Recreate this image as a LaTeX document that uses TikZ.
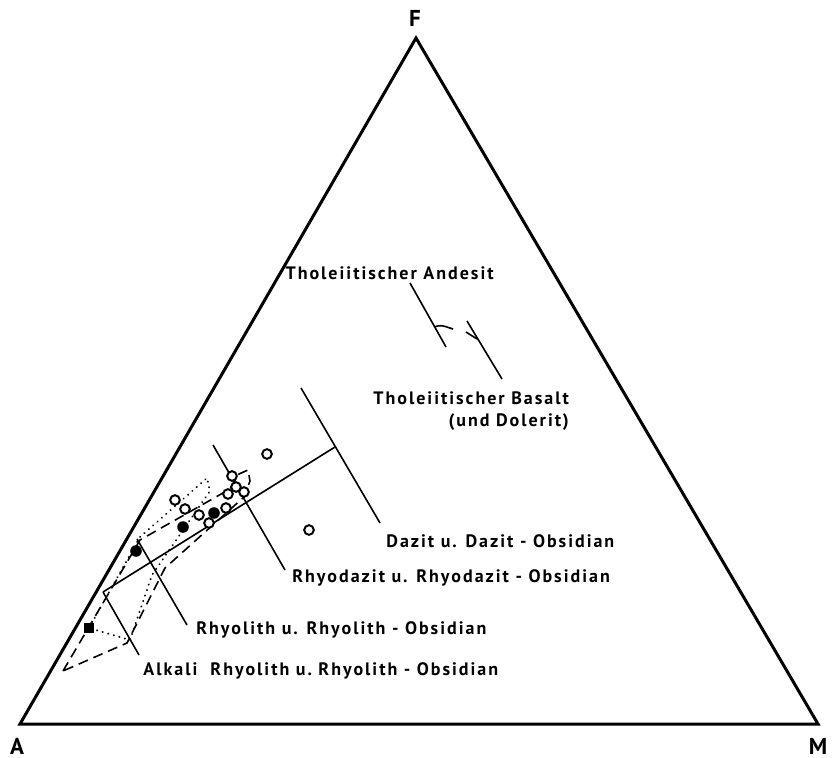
\documentclass[tikz,border=0pt]{standalone}
\usepackage{fontspec}
\setmainfont{PT Sans}[LetterSpace=11]
\usetikzlibrary{positioning}

\tikzset{
  edge/.style={line width=1.5pt, line join=miter},
  tie/.style={line width=0.8pt},
  rockname/.style={font=\bfseries\fontsize{9}{11}\selectfont, inner sep=0pt, anchor=west},
  corner/.style={font=\bfseries\fontsize{11.5}{12}\selectfont, inner sep=0pt},
  opensample/.style={circle, draw, fill=white, line width=1pt, minimum size=4.8pt, inner sep=0pt},
  fullsample/.style={circle, fill, minimum size=5.8pt, inner sep=0pt},
  squaresample/.style={rectangle, fill, minimum size=5pt, inner sep=0pt},
  dashfield/.style={line width=0.8pt, dash pattern=on 5pt off 3pt},
  dotfield/.style={line width=1pt, dash pattern=on 0.1pt off 2.8pt, line cap=round},
}

\begin{document}
\begin{tikzpicture}[x=0.5pt,y=-0.5pt]
\useasboundingbox (0,0) rectangle (834,758);

% AFM triangle
\coordinate (A) at (20,724);
\coordinate (M) at (818,724);
\coordinate (F) at (416,38);
\draw[edge] (A) -- (M) -- (F) -- cycle;
\node[corner] (labA) at (17,746) {A};
\node[corner] (labM) at (818,746) {M};
\node[corner] (labF) at (415,18) {F};

% tholeiitic trend
\coordinate (and0) at (410,283);
\coordinate (and1) at (446,347);
\coordinate (bas0) at (467,321);
\coordinate (bas1) at (502,379);
\draw[tie] (and0) -- (and1);
\draw[tie] (434,327) .. controls (441,325) .. (453,329);
\draw[tie] (bas0) -- (bas1);
\draw[tie] (466,332) -- (477,339);
\node[rockname, anchor=east] (andesit) at (494,273) {Tholeiitischer Andesit};
\node[rockname, anchor=north west, align=right] (basalt) at (373,391)
  {Tholeiitischer Basalt\\(und Dolerit)};

% acid trend and field limits
\coordinate (ax0) at (103,592);
\coordinate (ax1) at (335,447);
\coordinate (alk1) at (139,655);
\coordinate (rhy0) at (137,539);
\coordinate (rhy1) at (187,625);
\coordinate (rda0) at (213,445);
\coordinate (rda1) at (285,570);
\coordinate (daz0) at (301,388);
\coordinate (daz1) at (380,523);
\draw[tie] (ax0) -- (ax1);
\draw[tie] (ax0) -- (alk1);
\draw[tie] (rhy0) -- (rhy1);
\draw[tie] (rda0) -- (rda1);
\draw[tie] (daz0) -- (daz1);

\node[rockname] (dazit) at (386,541) {Dazit u. Dazit - Obsidian};
\node[rockname] (rhyodazit) at (292,578) {Rhyodazit u. Rhyodazit - Obsidian};
\node[rockname] (rhyolith) at (196,630) {Rhyolith u. Rhyolith - Obsidian};
\node[rockname] (alkali) at (143,671) {Alkali\ \ Rhyolith u.\ Rhyolith - Obsidian};

% fields
\draw[dashfield] (63,671) -- (140,540) -- (230,489) -- (239,474) -- (248,470)
  -- (250,481) -- (244,497) -- (165,568) -- (127,643) -- cycle;
\draw[dotfield] (89,628) -- (140,537) -- (207,478) -- (210,491)
  -- (152,575) -- (130,640) -- cycle;

% samples
\foreach \p/\q in {232/476, 236/487, 244/492, 228/494, 226/508, 209/523,
                   199/515, 185/509, 175/500, 267/454, 309/530}
  \node[opensample] (o\p) at (\p,\q) {};
\foreach \p/\q in {214/513, 183/527, 136/551}
  \node[fullsample] (f\p) at (\p,\q) {};
\node[squaresample] (s89) at (89,628) {};
\end{tikzpicture}
\end{document}
